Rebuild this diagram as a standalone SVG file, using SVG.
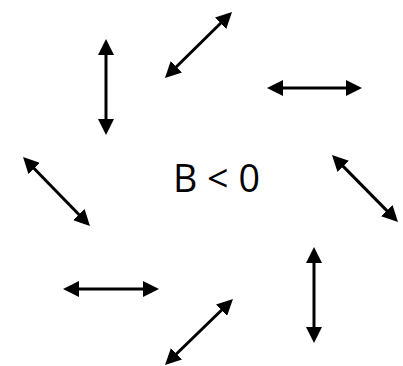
<svg xmlns="http://www.w3.org/2000/svg" width="403" height="366" viewBox="0 0 403 366">
  <defs>
    <!-- solid triangular head; tip sits 10px beyond the line end -->
    <marker id="head" markerUnits="userSpaceOnUse" markerWidth="16" markerHeight="16" viewBox="0 0 16 16" refX="6" refY="8" orient="auto-start-reverse">
      <path d="M0,0 L16,8 L0,16 Z" fill="#000"/>
    </marker>
  </defs>
  <style>
    .dbl { stroke: #000; stroke-width: 3; fill: none; marker-start: url(#head); marker-end: url(#head); }
    .lbl { font-family: "Open Sans", "Liberation Sans", sans-serif; font-size: 39px; fill: #000; }
  </style>
  <rect width="403" height="366" fill="#fff"/>

  <g id="label">
    <text class="lbl" x="173" y="192" textLength="87" lengthAdjust="spacingAndGlyphs">B &lt; 0</text>
  </g>

  <g id="connectors">
    <line class="dbl" x1="106" y1="49" x2="106" y2="125"/>
    <line class="dbl" x1="224.9" y1="19.0" x2="172.1" y2="71.0"/>
    <line class="dbl" x1="277" y1="88" x2="352" y2="88"/>
    <line class="dbl" x1="339.0" y1="162.1" x2="391.0" y2="214.9"/>
    <line class="dbl" x1="30.0" y1="164.2" x2="83.0" y2="218.8"/>
    <line class="dbl" x1="73" y1="289" x2="149" y2="289"/>
    <line class="dbl" x1="225.8" y1="306.0" x2="172.2" y2="358.0"/>
    <line class="dbl" x1="314" y1="257" x2="314" y2="333"/>
  </g>
</svg>
